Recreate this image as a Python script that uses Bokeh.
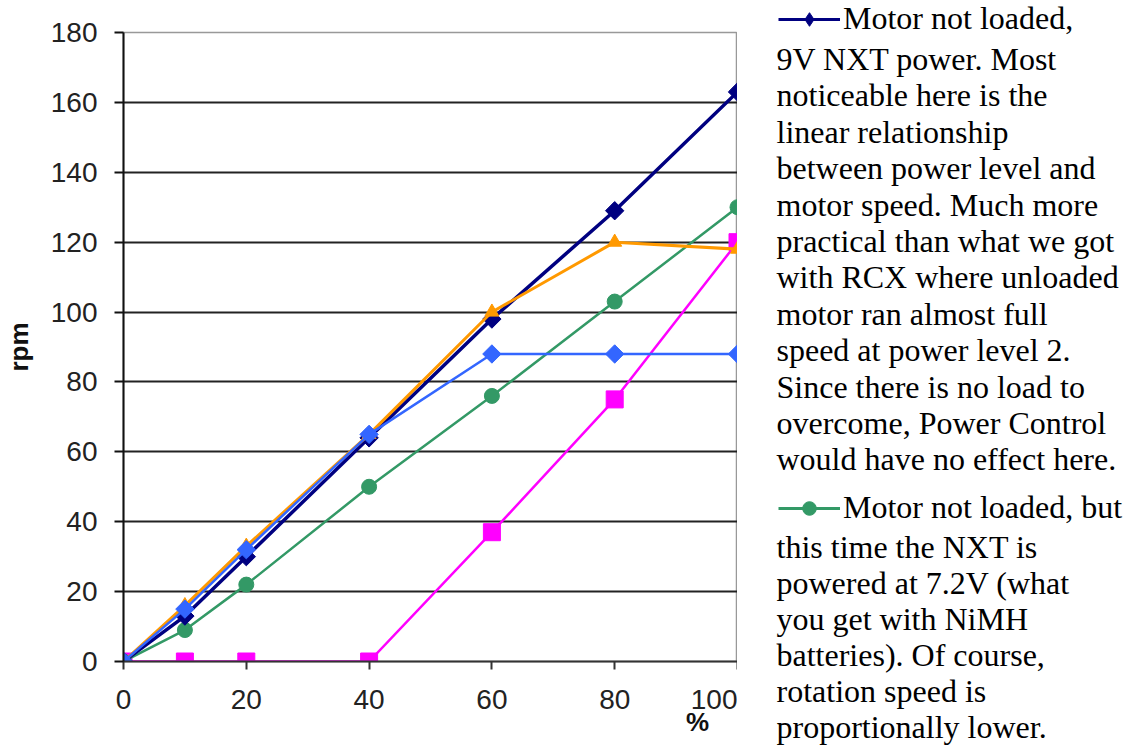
from bokeh.plotting import figure
from bokeh.models import Legend, LegendItem, Label, Range1d, FixedTicker, LinearAxis
from bokeh.layouts import row
from bokeh.embed import file_html
from bokeh.resources import INLINE
import numpy as np

# ---- data ----
power = [0, 10, 20, 40, 60, 80, 100]
rpm_9v = [0, 13, 30, 64, 98, 129, 163]          # navy, diamonds
rpm_blue = [0, 15, 32, 65, 88, 88, 88]          # royal blue, diamonds
rpm_orange = [0, 16, 33, 65, 100, 120, 118]     # orange, triangles
rpm_72v = [0, 9, 22, 50, 76, 103, 130]          # green, circles
rpm_magenta = [0, 0, 0, 0, 37, 75, 120]         # magenta, squares

y_ticks = [0, 20, 40, 60, 80, 100, 120, 140, 160, 180]
x_ticks = [0, 20, 40, 60, 80, 100]
x_title = "%"
x_title_pos = 93.5

legend1_lines = [
    "Motor not loaded,",
    "9V NXT power. Most",
    "noticeable here is the",
    "linear relationship",
    "between power level and",
    "motor speed. Much more",
    "practical than what we got",
    "with RCX where unloaded",
    "motor ran almost full",
    "speed at power level 2.",
    "Since there is no load to",
    "overcome, Power Control",
    "would have no effect here.",
]
legend2_lines = [
    "Motor not loaded, but",
    "this time the NXT is",
    "powered at 7.2V (what",
    "you get with NiMH",
    "batteries). Of course,",
    "rotation speed is",
    "proportionally lower.",
]

NAVY, BLUE, ORANGE, GREEN, MAGENTA = "#000080", "#3366FF", "#FF9900", "#339966", "#FF00FF"

H = 746
L, T, B = 122, 32, 85
W1 = 737
W2 = 1129 - W1

p = figure(width=W1, height=H, output_backend="svg", toolbar_location=None,
           x_range=Range1d(0, 100), y_range=Range1d(0, 180),
           min_border_left=L, min_border_right=0, min_border_top=T, min_border_bottom=B)
p.background_fill_color = "white"
p.border_fill_color = "white"
p.outline_line_color = "#999999"
p.outline_line_width = 1.5

for ax in (p.xaxis[0], p.yaxis[0]):
    ax.minor_tick_line_color = None
    ax.major_label_text_font = "Liberation Sans"
    ax.major_label_text_font_size = "28px"
    ax.major_label_text_color = "#222222"
    ax.major_tick_in = 0

ax = p.yaxis[0]
ax.ticker = FixedTicker(ticks=y_ticks)
ax.axis_line_color = "#111111"
ax.axis_line_width = 2
ax.major_tick_line_color = "#111111"
ax.major_tick_line_width = 2
ax.major_tick_out = 9
ax.major_label_standoff = 17
ax.axis_label = "rpm"
ax.axis_label_text_font = "Liberation Sans"
ax.axis_label_text_font_style = "bold"
ax.axis_label_text_font_size = "26px"
ax.axis_label_text_color = "#111111"
ax.axis_label_standoff = 14

ax = p.xaxis[0]
ax.ticker = FixedTicker(ticks=x_ticks)
ax.axis_line_color = "#333333"
ax.axis_line_width = 2
ax.major_tick_line_color = "#333333"
ax.major_tick_line_width = 2
ax.major_tick_out = 8
ax.major_label_standoff = 20

# second, label-only axis below carries the "%" title near the right end
xt = LinearAxis(ticker=FixedTicker(ticks=[x_title_pos]),
                major_label_overrides={x_title_pos: x_title},
                axis_line_color=None, major_tick_line_color=None, minor_tick_line_color=None,
                major_tick_in=0, major_tick_out=0, major_label_standoff=-5,
                major_label_text_font="Liberation Sans", major_label_text_font_style="bold",
                major_label_text_font_size="26px", major_label_text_color="#111111")
p.add_layout(xt, "below")

p.xgrid.grid_line_color = None
p.ygrid.ticker = FixedTicker(ticks=y_ticks[:-1])
p.ygrid.grid_line_color = "#222222"
p.ygrid.grid_line_width = 2

# series (bottom to top)
p.line(power, rpm_magenta, line_color=MAGENTA, line_width=2.5)
p.scatter(power, rpm_magenta, marker="square", size=17, fill_color=MAGENTA, line_color=MAGENTA)

p.line(power, rpm_72v, line_color=GREEN, line_width=2.5)
p.scatter(power, rpm_72v, marker="circle", size=15, fill_color=GREEN, line_color=GREEN)

p.line(power, rpm_9v, line_color=NAVY, line_width=3.5)
p.scatter(power, rpm_9v, marker="square", angle=np.pi / 4, size=13, fill_color=NAVY, line_color=NAVY)

p.line(power, rpm_orange, line_color=ORANGE, line_width=3)
p.scatter(power, rpm_orange, marker="triangle", size=14, fill_color=ORANGE, line_color=ORANGE)

p.line(power, rpm_blue, line_color=BLUE, line_width=2.5)
p.scatter(power, rpm_blue, marker="square", angle=np.pi / 4, size=13, fill_color=BLUE, line_color=BLUE)

# ---- right-hand legend / description panel ----
# its x range is placed away from the data so the swatch renderers stay off-view
q = figure(frame_width=W2, frame_height=H, output_backend="svg", toolbar_location=None,
           x_range=Range1d(-5000, -5000 + W2), y_range=Range1d(0, H),
           min_border_left=0, min_border_right=0, min_border_top=0, min_border_bottom=0)
if "frame_align" in q.properties():
    q.frame_align = False
if "frame_align" in p.properties():
    p.frame_align = False
q.axis.visible = False
q.grid.visible = False
q.outline_line_color = None
q.background_fill_color = "white"
q.border_fill_color = "white"

nav_l = q.line(power, rpm_9v, line_color=NAVY, line_width=3)
nav_s = q.scatter(power, rpm_9v, marker="diamond", size=15, fill_color=NAVY, line_color=NAVY)
grn_l = q.line(power, rpm_72v, line_color=GREEN, line_width=3)
grn_s = q.scatter(power, rpm_72v, marker="circle", size=11, fill_color=GREEN, line_color=GREEN)

FONT = "Liberation Serif"
FS = "32px"
LH1 = 36.4
LH2 = 36.0
X0 = 778 - W1
ROW_H = 34
SHIFT = 11  # baseline correction


def make_legend(item, center_px):
    bottom_px = center_px + ROW_H / 2
    lg = Legend(items=[item], location=(X0, H - bottom_px),
                orientation="vertical", glyph_width=62, glyph_height=ROW_H,
                label_height=ROW_H, label_standoff=3, padding=0, margin=0, spacing=0,
                border_line_color=None, background_fill_alpha=0,
                label_text_font=FONT, label_text_font_size=FS, label_text_color="#000000")
    q.add_layout(lg, "center")


make_legend(LegendItem(label=legend1_lines[0], renderers=[nav_l, nav_s]), 20)
make_legend(LegendItem(label=legend2_lines[0], renderers=[grn_l, grn_s]), 509)

for i, t in enumerate(legend1_lines[1:], start=1):
    base = 33 + LH1 * i - SHIFT
    q.add_layout(Label(x=776 - W1, y=H - base, x_units="screen", y_units="screen",
                       text=t, text_font=FONT, text_font_size=FS, text_color="#000000",
                       text_baseline="alphabetic", text_align="left"))
for i, t in enumerate(legend2_lines[1:], start=1):
    base = 521 + LH2 * i - SHIFT
    q.add_layout(Label(x=776 - W1, y=H - base, x_units="screen", y_units="screen",
                       text=t, text_font=FONT, text_font_size=FS, text_color="#000000",
                       text_baseline="alphabetic", text_align="left"))

layout = row(p, q)
open("out.html", "w").write(file_html(layout, INLINE))
